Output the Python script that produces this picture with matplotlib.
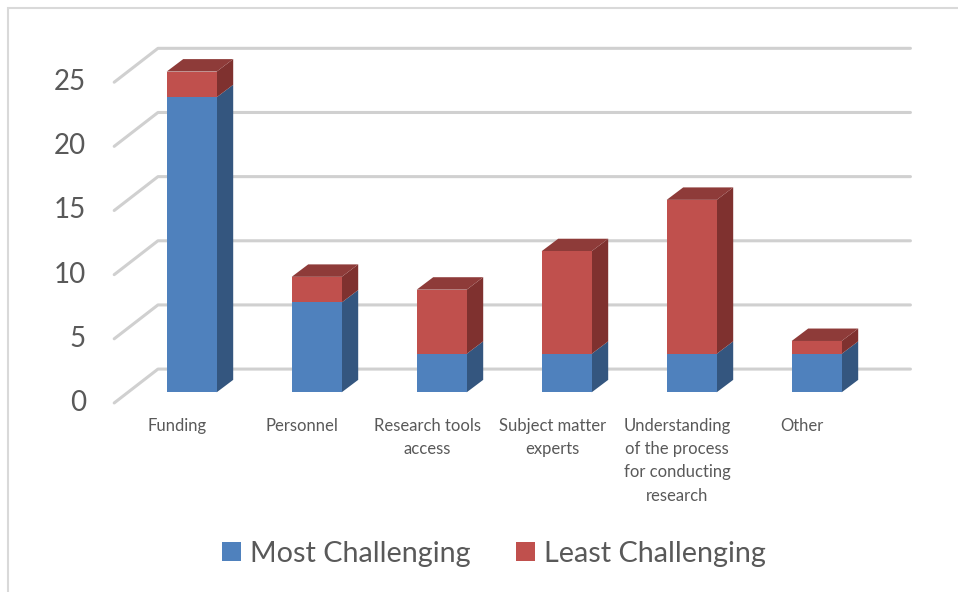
import matplotlib
matplotlib.use("Agg")
import matplotlib.pyplot as plt
from matplotlib.patches import Polygon, Rectangle
import numpy as np

plt.rcParams['font.family'] = ['Lato', 'DejaVu Sans']

categories = ["Funding", "Personnel", "Research tools\naccess", "Subject matter\nexperts",
              "Understanding\nof the process\nfor conducting\nresearch", "Other"]
most = [23, 7, 3, 3, 3, 3]
least = [2, 2, 5, 8, 12, 1]
yticks = [0, 5, 10, 15, 20, 25]

blue_front, blue_side, blue_top = '#4F81BD', '#34567F', '#3C6496'
red_front, red_side, red_top = '#C0504D', '#7F312F', '#8E3B39'
text_col = '#595959'
grid_col = '#D0D0D0'

W, H = 958, 592
fig = plt.figure(figsize=(W / 100, H / 100), dpi=100)
ax = fig.add_axes([0, 0, 1, 1])
# pixel mapping: x_px = 191.7 + 125*x ; y_px(from top) = 392.3 - 12.83*v
ax.set_xlim((0 - 191.7) / 125, (W - 191.7) / 125)
ax.set_ylim((392.3 - H) / 12.83, 392.3 / 12.83)
ax.axis('off')

# outer border
fig.patches.append(Rectangle((8 / W, -0.1), 1.2, 1 - 8 / H + 0.1, transform=fig.transFigure,
                             fill=False, edgecolor='#D9D9D9', linewidth=1.5, zorder=0))

# 3D geometry (data units)
x_front, x_back, x_right = -0.62, -0.27, 5.75
y_front_off, y_back_off = -0.83, 1.81
bw = 0.40
ddx, ddy = 0.132, 0.97

# gridlines
for v in yticks:
    ax.plot([x_front, x_back, x_right], [v + y_front_off, v + y_back_off, v + y_back_off],
            color=grid_col, linewidth=2.2, solid_capstyle='round', zorder=1)
    ax.text(x_front - 0.225, v + y_front_off, str(v), ha='right', va='center',
            fontsize=20, color=text_col)

x = np.arange(len(categories))
most_arr = np.array(most, dtype=float)
least_arr = np.array(least, dtype=float)

b1 = ax.bar(x, most_arr, width=bw, color=blue_front, zorder=3, label='Most Challenging')
b2 = ax.bar(x, least_arr, width=bw, bottom=most_arr, color=red_front, zorder=3,
            label='Least Challenging')

for i in range(len(x)):
    xl, xr = x[i] - bw / 2, x[i] + bw / 2
    segs = [(0, most_arr[i], blue_side), (most_arr[i], most_arr[i] + least_arr[i], red_side)]
    for b, t, c in segs:
        ax.add_patch(Polygon([(xr, b), (xr + ddx, b + ddy), (xr + ddx, t + ddy), (xr, t)],
                             closed=True, facecolor=c, edgecolor='none', zorder=2.9))
    T = most_arr[i] + least_arr[i]
    topc = red_top if least_arr[i] > 0 else blue_top
    ax.add_patch(Polygon([(xl, T), (xl + ddx, T + ddy), (xr + ddx, T + ddy), (xr, T)],
                         closed=True, facecolor=topc, edgecolor='none', zorder=2.9))
    ax.text(x[i] - 0.115, -1.98, categories[i], ha='center', va='top', fontsize=12,
            color=text_col, linespacing=1.56, multialignment='center')

leg = fig.legend(handles=[b1, b2], loc='center', bbox_to_anchor=(494 / W, 1 - 554 / H),
                 ncol=2, frameon=False, fontsize=20.7, handlelength=0.65, handleheight=0.65,
                 handletextpad=0.32, columnspacing=1.6, labelcolor=text_col)

fig.savefig('out.png', dpi=100)
